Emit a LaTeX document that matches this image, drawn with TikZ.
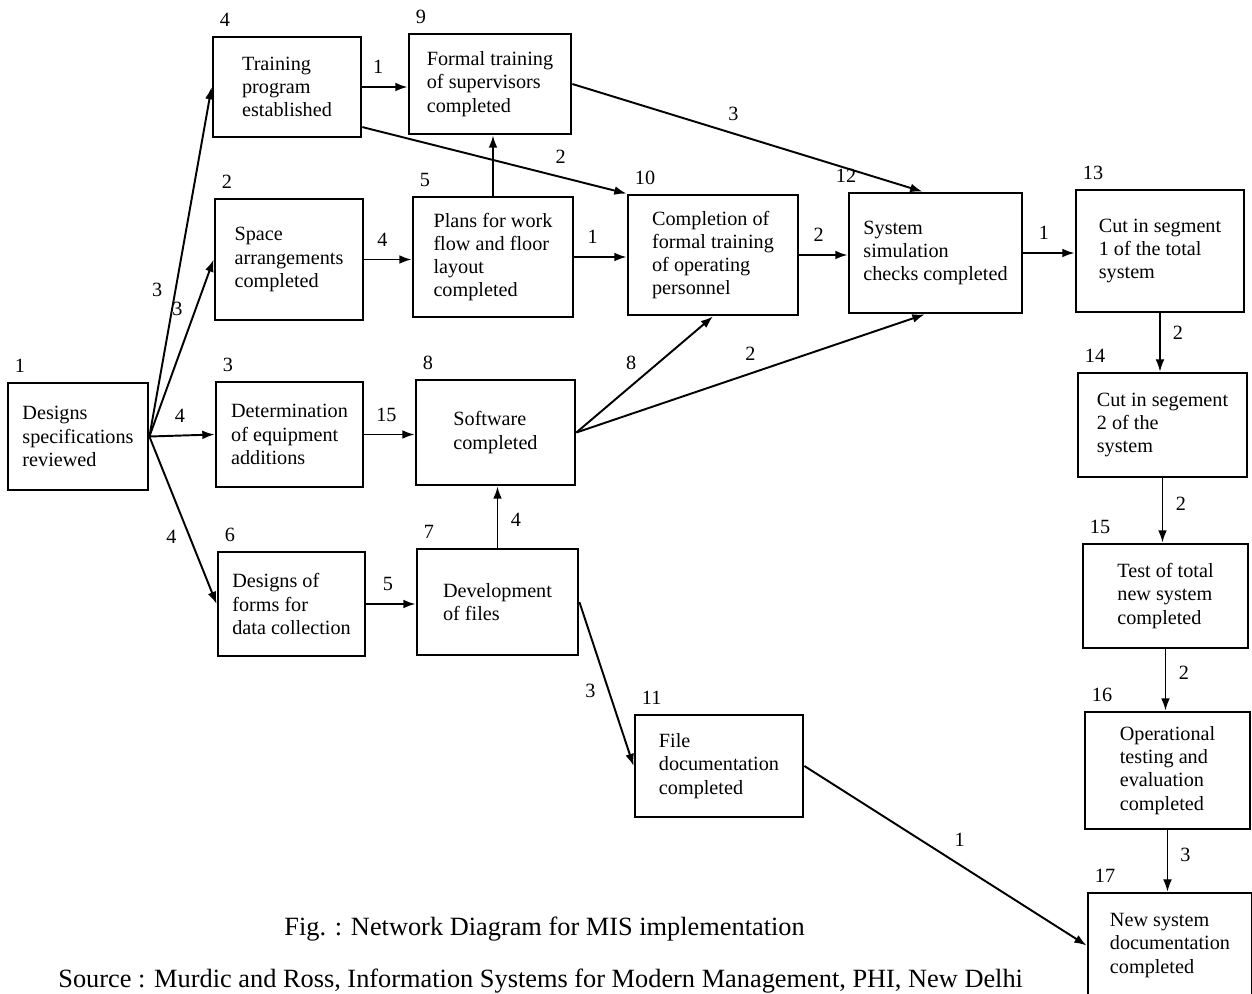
\documentclass[tikz,border=0pt]{standalone}
\usepackage{fontspec}
\setmainfont{Liberation Serif}
\usetikzlibrary{arrows.meta}
\tikzset{
    block/.style = {draw, rectangle, line width=1.6pt,
        align=left, inner sep=2pt,
        font=\fontsize{11.5}{13.2}\selectfont},
    arrow/.style = {draw, line width=1.1pt, -{Latex[length=7pt,width=5pt]}},
    thinarrow/.style = {arrow, line width=0.7pt},
    num/.style = {anchor=south west, inner sep=0pt, xshift=0.16cm, yshift=0.18cm,
        font=\fontsize{11.5}{13.2}\selectfont},
    wt/.style = {font=\fontsize{11.5}{13.2}\selectfont, inner sep=7pt},
    caption/.style = {anchor=base west, inner sep=0pt, font=\fontsize{15}{18}\selectfont}
}

\begin{document}
\begin{tikzpicture}[x=0.02cm, y=-0.02cm]
        \useasboundingbox (0,0) rectangle (1252,994);
        \node [block, minimum width=2.8cm, minimum height=2.14cm, label={[num]north west:1}] (n1) at (78,436.5) {Designs\\specifications\\reviewed};
        \node [block, minimum width=2.96cm, minimum height=2cm, label={[num]north west:4}] (n4) at (287,87) {Training\\program\\established};
        \draw [arrow] (n1.east) -- node [wt, pos=0.42, left] {3} (n4.west);
        \node [block, minimum width=2.96cm, minimum height=2.42cm, label={[num]north west:2}] (n2) at (289,259.5) {Space\\arrangements\\completed};
        \draw [arrow] (n1.east) -- node [wt, pos=0.72, left] {3} (n2.west);
        \node [block, minimum width=2.94cm, minimum height=2.1cm, label={[num]north west:3}] (n3) at (289.5,434.5) {Determination\\of equipment\\additions};
        \draw [arrow] (n1.east) -- node [wt, pos=0.47, above] {4} (n3.west);
        \node [block, minimum width=2.94cm, minimum height=2.08cm, label={[num]north west:6}] (n6) at (291.5,604) {Designs of\\forms for\\data collection};
        \draw [arrow] (n1.east) -- node [wt, pos=0.6, left] {4} (n6.west);
        \node [block, minimum width=3.24cm, minimum height=2cm, label={[num]north west:9}] (n9) at (490,84) {Formal training\\of supervisors\\completed};
        \draw [arrow] (n4.east) -- node [wt, pos=0.35, above] {1} (n4.east -| n9.west);
        \node [block, minimum width=3.2cm, minimum height=2.4cm, label={[num]north west:5}] (n5) at (493,257) {Plans for work\\flow and floor\\layout\\completed};
        \draw [arrow] (n2.east) -- node [wt, pos=0.38, above] {4} (n2.east -| n5.west);
        \draw [arrow] (n5.north) -- (n5.north |- n9.south);
        \node [block, minimum width=3.18cm, minimum height=2.1cm, label={[num]north west:8}] (n8) at (495.5,432.5) {Software\\completed};
        \draw [arrow] (n3.east) -- node [wt, pos=0.44, above] {15} (n3.east -| n8.west);
        \node [block, minimum width=3.22cm, minimum height=2.12cm, label={[num]north west:7}] (n7) at (497.5,602) {Development\\of files};
        \draw [arrow] (n6.east) -- node [wt, pos=0.44, above] {5} (n6.east -| n7.west);
        \draw [arrow] (n7.north) -- node [wt, pos=0.45, right] {4} (n7.north |- n8.south);
        \node [block, minimum width=3.4cm, minimum height=2.4cm, label={[num]north west:10}] (n10) at (713,255) {Completion of\\formal training\\of operating\\personnel};
        \draw [arrow] (n4.-28) -- node [wt, pos=0.75, above] {2} (n10.north west);
        \draw [arrow] (n5.east) -- node [wt, pos=0.35, above] {1} (n5.east -| n10.west);
        \draw [arrow] (n8.east) -- node [wt, pos=0.6, left=5pt] {8} (n10.south);
        \node [block, minimum width=3.46cm, minimum height=2.4cm, label={[num, xshift=-0.4cm]north west:12}] (n12) at (935.5,253) {System\\simulation\\checks completed};
        \draw [arrow] (n9.east) -- node [wt, pos=0.46, above] {3} (n12.102);
        \draw [arrow] (n10.east) -- node [wt, pos=0.4, above] {2} (n10.east -| n12.west);
        \draw [arrow] (n8.east) -- node [wt, pos=0.5, above] {2} (n12.-100);
        \node [block, minimum width=3.36cm, minimum height=2.44cm, label={[num]north west:13}] (n13) at (1160,251) {Cut in segment\\1 of the total\\system};
        \draw [arrow] (n12.east) -- node [wt, pos=0.4, above] {1} (n12.east -| n13.west);
        \node [block, minimum width=3.38cm, minimum height=2.08cm, label={[num]north west:14}] (n14) at (1162.5,425) {Cut in segement\\2 of the\\system};
        \draw [thinarrow] (n13.south) -- node [wt, pos=0.33, right] {2} (n13.south |- n14.north);
        \node [block, minimum width=3.3cm, minimum height=2.08cm, label={[num]north west:15}] (n15) at (1165.5,596) {Test of total\\new system\\completed};
        \draw [arrow] (n14.south) -- node [wt, pos=0.39, right] {2} (n14.south |- n15.north);
        \node [block, minimum width=3.3cm, minimum height=2.34cm, label={[num]north west:16}] (n16) at (1167.5,770.5) {Operational\\testing and\\evaluation\\completed};
        \draw [arrow] (n15.south) -- node [wt, pos=0.39, right] {2} (n15.south |- n16.north);
        \node [block, minimum width=3.36cm, minimum height=2.04cm, label={[num]north west:11}] (n11) at (719,766) {File\\documentation\\completed};
        \draw [arrow] (n7.east) -- node [wt, pos=0.54, left] {3} (n11.west);
        \node [block, minimum width=3.28cm, minimum height=2.1cm, label={[num]north west:17}] (n17) at (1170,945.5) {New system\\documentation\\completed};
        \draw [thinarrow] (n16.south) -- node [wt, pos=0.4, right] {3} (n16.south |- n17.north);
        \draw [arrow] (n11.east) -- node [wt, pos=0.55, above=3pt] {1} (n17.west);
        \node [caption] (fig) at (284,935) {Fig. : Network Diagram for MIS implementation};
        \node [caption] (source) at (58,987) {Source : Murdic and Ross, Information Systems for Modern Management, PHI, New Delhi};
    \end{tikzpicture}
\end{document}
